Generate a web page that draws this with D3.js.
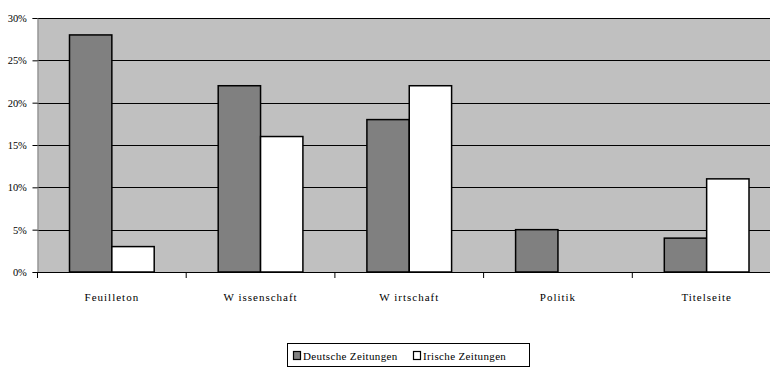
<!DOCTYPE html>
<html><head><meta charset="utf-8">
<script src="https://cdn.jsdelivr.net/npm/d3@7"></script>
<style>
html,body{margin:0;padding:0;background:#fff;}
svg text{font-family:"Liberation Serif",serif;fill:#000;}
</style></head>
<body><svg id="c" width="770" height="367"></svg>
<script>
const categories = ["Feuilleton","W issenschaft","W irtschaft","Politik","Titelseite"];
const seriesNames = ["Deutsche Zeitungen","Irische Zeitungen"];
const deutsche = [28,22,18,5,4];
const irische = [3,16,22,0,11];
const yTicks = [0,5,10,15,20,25,30];
const colors = ["#808080","#ffffff"];

const svg = d3.select("#c");
const pLeft = 37.5, pTop = 18, pBottom = 272, pRight = 781;
const x = d3.scaleBand().domain(categories).range([pLeft,pRight]).paddingInner(0).paddingOuter(0);
const y = d3.scaleLinear().domain([0,30]).range([pBottom,pTop]);
const inner = d3.scaleBand().domain(seriesNames).range([32, x.bandwidth()-32]);

svg.append("rect").attr("x",pLeft).attr("y",pTop).attr("width",800-pLeft).attr("height",pBottom-pTop).attr("fill","#c0c0c0");

// gridlines
svg.append("g").selectAll("line").data(yTicks.filter(d=>d>0)).join("line")
  .attr("x1",pLeft).attr("x2",800).attr("y1",d=>Math.round(y(d))+0.5).attr("y2",d=>Math.round(y(d))+0.5)
  .attr("stroke","#000").attr("stroke-width",1);

// y axis
const yAxis = d3.axisLeft(y).tickValues(yTicks).tickFormat(d=>d+"%").tickSize(5).tickPadding(6);
const gy = svg.append("g").attr("transform",`translate(${pLeft},0)`).call(yAxis);
gy.select(".domain").attr("stroke","#808080");
gy.selectAll(".tick line").attr("stroke","#000");
gy.selectAll("text").style("font-size","10.5px").style("font-family","Liberation Serif").attr("letter-spacing","-0.2").attr("fill","#222");

// bars
const data = categories.map((c,i)=>({c, vals:[deutsche[i],irische[i]]}));
const g = svg.append("g");
data.forEach(d=>{
  d.vals.forEach((v,j)=>{
    if(v<=0) return;
    g.append("rect")
      .attr("x",x(d.c)+inner(seriesNames[j]))
      .attr("y",y(v))
      .attr("width",inner.bandwidth())
      .attr("height",y(0)-y(v))
      .attr("fill",colors[j]).attr("stroke","#000").attr("stroke-width",1.5);
  });
});

// x axis
const xAxis = d3.axisBottom(x).tickSize(0).tickPadding(21);
const gx = svg.append("g").attr("transform",`translate(0,${pBottom})`).call(xAxis);
gx.select(".domain").attr("d",`M${pLeft},0.5H800`).attr("stroke","#000").attr("stroke-width",1.2);
gx.selectAll("text").style("font-size","11px").style("font-family","Liberation Serif").attr("letter-spacing","1").attr("fill","#222");
svg.append("g").selectAll("line").data(categories).join("line")
  .attr("x1",d=>x(d)).attr("x2",d=>x(d)).attr("y1",pBottom).attr("y2",pBottom+6)
  .attr("stroke","#000");

// legend
const lg = svg.append("g");
lg.append("rect").attr("x",287.5).attr("y",343.5).attr("width",242).attr("height",23).attr("fill","#fff").attr("stroke","#000");
const lx = [293, 413];
seriesNames.forEach((s,j)=>{
  lg.append("rect").attr("x",lx[j]+0.5).attr("y",351.5).attr("width",7).attr("height",8)
    .attr("fill",colors[j]).attr("stroke","#000").attr("stroke-width",1.2);
  lg.append("text").attr("x",lx[j]+10).attr("y",359.5).text(s)
    .style("font-size","11px").attr("letter-spacing","0.35").attr("fill","#222");
});
</script></body></html>
